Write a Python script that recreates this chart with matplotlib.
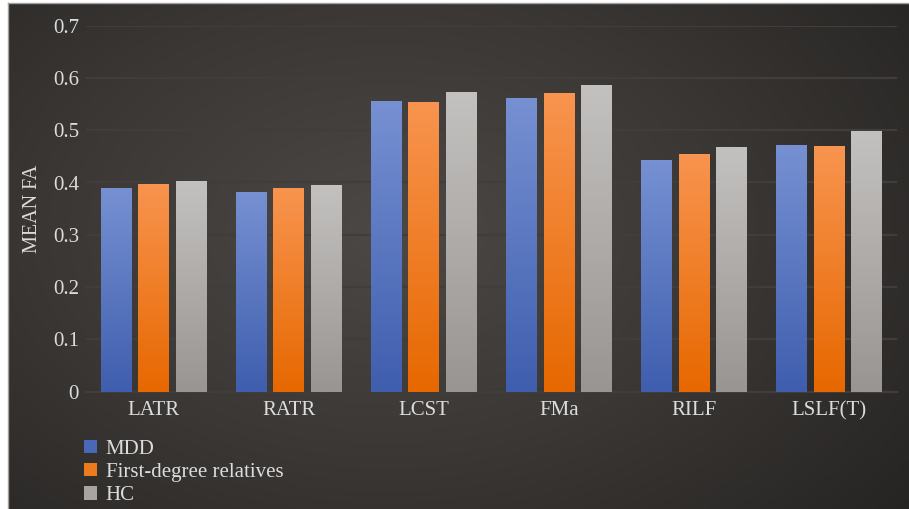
import numpy as np
import matplotlib
matplotlib.use("Agg")
import matplotlib.pyplot as plt
from matplotlib.colors import LinearSegmentedColormap
from matplotlib.patches import Patch

plt.rcParams["font.family"] = ["Liberation Serif", "DejaVu Serif"]

# data
categories = ["LATR", "RATR", "LCST", "FMa", "RILF", "LSLF(T)"]
series_names = ["MDD", "First-degree relatives", "HC"]
mdd = [0.390, 0.382, 0.556, 0.562, 0.443, 0.472]
relatives = [0.398, 0.389, 0.553, 0.571, 0.454, 0.470]
hc = [0.403, 0.395, 0.573, 0.586, 0.468, 0.498]
yticks = [0, 0.1, 0.2, 0.3, 0.4, 0.5, 0.6, 0.7]
ytick_labels = ["0", "0.1", "0.2", "0.3", "0.4", "0.5", "0.6", "0.7"]

# top / bottom gradient colours per series
grad_colors = [("#7690d2", "#3f5eae"), ("#f8944f", "#e76800"), ("#c3c1bf", "#999593")]
solid_colors = ["#4a68b8", "#ee7a1e", "#a8a4a2"]
text_color = "#dcdcdc"

W, H = 909, 509
fig = plt.figure(figsize=(W / 100, H / 100), dpi=100)
fig.patch.set_facecolor("white")

# dark radial background
bg = fig.add_axes([8 / W, 0, 1 - 8 / W, 1 - 3 / H])
yy, xx = np.mgrid[0:1:300j, 0:1:500j]
r = np.sqrt(((xx - 0.42) / 0.75) ** 2 + ((yy - 0.45) / 0.9) ** 2)
bg_cmap = LinearSegmentedColormap.from_list("bg", ["#4b4846", "#3a3735", "#262422"])
bg.imshow(np.clip(r, 0, 1), cmap=bg_cmap, aspect="auto", extent=[0, 1, 0, 1],
          vmin=0, vmax=1)
bg.set_xlim(0, 1)
bg.set_ylim(0, 1)
bg.set_xticks([])
bg.set_yticks([])
for s in bg.spines.values():
    s.set_color("#a0a0a0")
    s.set_linewidth(1.0)
bg.spines["right"].set_visible(False)
bg.spines["bottom"].set_visible(False)

ax = fig.add_axes([86 / W, 1 - 391.7 / H, 811 / W, (391.7 - 25.6) / H])
ax.patch.set_alpha(0)

x = np.arange(len(categories))
bar_w = 0.229
step = 0.277
all_series = [mdd, relatives, hc]
for i, vals in enumerate(all_series):
    bars = ax.bar(x + (i - 1) * step, vals, width=bar_w, color=solid_colors[i],
                  zorder=3, label=series_names[i])
    cmap = LinearSegmentedColormap.from_list("g%d" % i, [grad_colors[i][1], grad_colors[i][0]])
    for b in bars:
        x0, y0 = b.get_x(), b.get_y()
        grad = np.linspace(0, 1, 100).reshape(-1, 1)
        im = ax.imshow(grad, cmap=cmap, aspect="auto", origin="lower",
                       extent=[x0, x0 + b.get_width(), y0, y0 + b.get_height()], zorder=4)
        im.set_clip_path(b)

ax.set_xlim(-0.5, len(categories) - 0.5)
ax.set_ylim(0, 0.7)
ax.set_yticks(yticks)
ax.set_yticklabels(ytick_labels)
ax.set_xticks(x)
ax.set_xticklabels(categories)
ax.yaxis.grid(True, color="#403d3b", linewidth=1.6, zorder=0)
ax.set_axisbelow(True)
for s in ["top", "right", "left"]:
    ax.spines[s].set_visible(False)
ax.spines["bottom"].set_color("#403d3b")
ax.spines["bottom"].set_linewidth(1.6)
ax.tick_params(axis="both", length=0, labelsize=15, colors=text_color)
ax.tick_params(axis="y", pad=5)
ax.tick_params(axis="x", pad=7)
ax.set_ylabel("MEAN FA", fontsize=14.5, color=text_color, labelpad=8)

handles = [Patch(facecolor=solid_colors[i], edgecolor="none") for i in range(3)]
leg = fig.legend(handles, series_names, loc="upper left",
                 bbox_to_anchor=(84 / W, 1 - 440 / H), frameon=False,
                 fontsize=15, handlelength=0.6, handleheight=0.6,
                 handletextpad=0.45, labelspacing=0.2, borderaxespad=0,
                 borderpad=0)
for t in leg.get_texts():
    t.set_color(text_color)

fig.savefig("out.png", dpi=100, facecolor=fig.get_facecolor())
